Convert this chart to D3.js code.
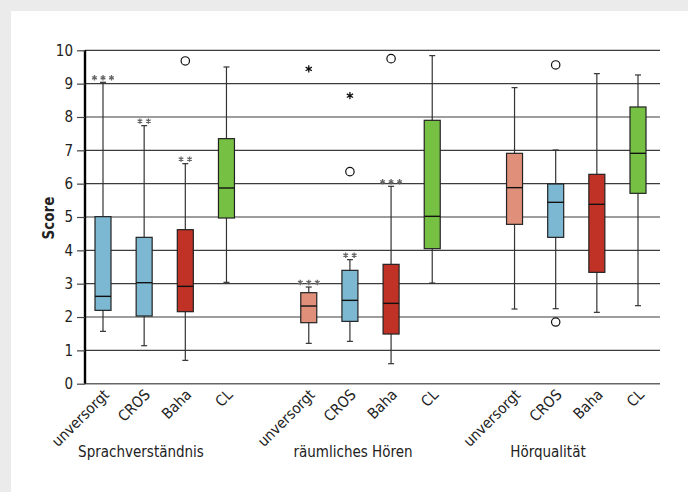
<!DOCTYPE html>
<html lang="de">
<head>
  <meta charset="UTF-8">
  <title>Score nach Versorgung</title>
  <script src="https://d3js.org/d3.v7.min.js"></script>
  <style>
    html, body { margin: 0; padding: 0; background: #fff; overflow: hidden; }
    svg { display: block; }
    text { font-family: "DejaVu Sans Condensed", "DejaVu Sans", sans-serif; }
  </style>
</head>
<body>
  <svg width="688" height="492"></svg>
  <script>
    // groups and devices
    const groups = ["Sprachverständnis", "räumliches Hören", "Hörqualität"];
    const devices = ["unversorgt", "CROS", "Baha", "CL"];

    // one entry per box, group by group, device order as above
    const boxColors = ["#7db8d3", "#7db8d3", "#c03226", "#76c043",
                       "#e0907a", "#7db8d3", "#c03226", "#76c043",
                       "#e0907a", "#7db8d3", "#c03226", "#76c043"];
    const whiskerLow  = [1.57, 1.14, 0.70, 3.04, 1.21, 1.27, 0.60, 3.02, 2.24, 2.25, 2.14, 2.34];
    const q1          = [2.20, 2.03, 2.16, 4.97, 1.83, 1.87, 1.49, 4.05, 4.78, 4.39, 3.34, 5.71];
    const medians     = [2.62, 3.03, 2.92, 5.87, 2.33, 2.50, 2.41, 5.02, 5.88, 5.44, 5.38, 6.91];
    const q3          = [5.01, 4.39, 4.62, 7.35, 2.73, 3.40, 3.58, 7.90, 6.91, 5.99, 6.28, 8.30];
    const whiskerHigh = [9.04, 7.74, 6.60, 9.50, 2.90, 3.72, 5.92, 9.84, 8.88, 7.01, 9.30, 9.26];
    const stars       = [3, 2, 2, 0, 3, 2, 3, 0, 0, 0, 0, 0];

    // outliers: box index and value
    const circleOutliers  = [[2, 9.68], [5, 6.36], [6, 9.75], [9, 9.56], [9, 1.85]];
    const extremeOutliers = [[4, 9.44], [5, 8.64]];

    const yTicks = d3.range(0, 11);

    const svg = d3.select("svg");
    const plotLeft = 85, plotRight = 660, plotTop = 50.3, plotBottom = 383.7;
    const groupLabelX = [141, 353, 548];

    // grey frame, white panel
    svg.append("rect").attr("width", 688).attr("height", 492).attr("fill", "#ebebeb");
    svg.append("rect").attr("x", 11).attr("y", 11).attr("width", 688).attr("height", 492).attr("fill", "#fff");

    const y = d3.scaleLinear().domain([0, 10]).range([plotBottom, plotTop]);

    // 14 slots: 4 boxes, gap, 4 boxes, gap, 4 boxes
    const slots = d3.range(14);
    const x = d3.scalePoint().domain(slots).range([103, 638]);
    const slotOf = i => Math.floor(i / 4) * 5 + (i % 4);
    const bx = i => x(slotOf(i));

    // grid lines
    svg.append("g").selectAll("line")
      .data(yTicks.filter(d => d > 0))
      .join("line")
      .attr("x1", plotLeft).attr("x2", plotRight)
      .attr("y1", d => y(d)).attr("y2", d => y(d))
      .attr("stroke", "#3c3c3c").attr("stroke-width", 1.2);
    svg.append("line")
      .attr("x1", plotLeft).attr("x2", plotRight)
      .attr("y1", y(0)).attr("y2", y(0))
      .attr("stroke", "#666").attr("stroke-width", 1.4);

    // y axis
    const yAxis = svg.append("g")
      .attr("transform", `translate(${plotLeft},0)`)
      .call(d3.axisLeft(y).tickValues(yTicks).tickSize(8).tickPadding(4));
    yAxis.select(".domain").attr("stroke", "#000").attr("stroke-width", 2.4).attr("d", `M0,${y(0)}V${y(10)}`);
    yAxis.selectAll(".tick line").attr("stroke", "#444").attr("stroke-width", 1.2);
    yAxis.selectAll(".tick text")
      .style("font-family", "DejaVu Sans Condensed, DejaVu Sans, sans-serif")
      .style("font-size", "15px").style("fill", "#222");

    svg.append("text")
      .attr("transform", `translate(54,${(plotBottom + plotTop) / 2 + 1}) rotate(-90)`)
      .attr("text-anchor", "middle")
      .style("font-size", "15px").style("font-weight", "bold").style("fill", "#222")
      .text("Score");

    const boxW = 16, capW = 6;
    const idx = d3.range(12);

    // whiskers
    const wg = svg.append("g").attr("stroke", "#333").attr("stroke-width", 1.2);
    wg.selectAll(".wl").data(idx).join("line").attr("class", "wl")
      .attr("x1", bx).attr("x2", bx)
      .attr("y1", i => y(whiskerLow[i])).attr("y2", i => y(whiskerHigh[i]));
    wg.selectAll(".ch").data(idx).join("line").attr("class", "ch")
      .attr("x1", i => bx(i) - capW / 2).attr("x2", i => bx(i) + capW / 2)
      .attr("y1", i => y(whiskerHigh[i])).attr("y2", i => y(whiskerHigh[i]));
    wg.selectAll(".cl").data(idx).join("line").attr("class", "cl")
      .attr("x1", i => bx(i) - capW / 2).attr("x2", i => bx(i) + capW / 2)
      .attr("y1", i => y(whiskerLow[i])).attr("y2", i => y(whiskerLow[i]));

    // boxes
    svg.append("g").selectAll("rect").data(idx).join("rect")
      .attr("x", i => bx(i) - boxW / 2)
      .attr("y", i => y(q3[i]))
      .attr("width", boxW)
      .attr("height", i => y(q1[i]) - y(q3[i]))
      .attr("fill", i => boxColors[i])
      .attr("stroke", "#222").attr("stroke-width", 1.2);

    svg.append("g").selectAll("line").data(idx).join("line")
      .attr("x1", i => bx(i) - boxW / 2).attr("x2", i => bx(i) + boxW / 2)
      .attr("y1", i => y(medians[i])).attr("y2", i => y(medians[i]))
      .attr("stroke", "#111").attr("stroke-width", 1.4);

    // significance stars (small grey asterisks above the upper whisker)
    const starData = [];
    idx.forEach(i => {
      for (let k = 0; k < stars[i]; k++) starData.push({ i, off: (k - (stars[i] - 1) / 2) * 8.5 });
    });
    svg.append("g").selectAll("path").data(starData).join("path")
      .attr("transform", d => `translate(${bx(d.i) + d.off},${y(whiskerHigh[d.i]) - 4.5})`)
      .attr("d", d3.symbol(d3.symbolAsterisk, 20))
      .attr("fill", "none").attr("stroke", "#666").attr("stroke-width", 1.3);

    // outliers
    svg.append("g").selectAll("circle").data(circleOutliers).join("circle")
      .attr("cx", d => bx(d[0])).attr("cy", d => y(d[1])).attr("r", 4.2)
      .attr("fill", "#fff").attr("stroke", "#111").attr("stroke-width", 1.2);

    svg.append("g").selectAll("path").data(extremeOutliers).join("path")
      .attr("transform", d => `translate(${bx(d[0])},${y(d[1])})`)
      .attr("d", d3.symbol(d3.symbolAsterisk, 36))
      .attr("fill", "none").attr("stroke", "#111").attr("stroke-width", 1.3);

    // device labels
    svg.append("g").selectAll("text").data(idx).join("text")
      .attr("transform", i => `translate(${bx(i) + 7},${plotBottom + 12}) rotate(-45)`)
      .attr("text-anchor", "end")
      .style("font-size", "15px").style("fill", "#222")
      .text(i => devices[i % 4]);

    // group labels
    svg.append("g").selectAll("text").data(groups).join("text")
      .attr("x", (g, k) => groupLabelX[k])
      .attr("y", 457)
      .attr("text-anchor", "middle")
      .style("font-size", "15px").style("fill", "#222")
      .text(d => d);
  </script>
</body>
</html>
